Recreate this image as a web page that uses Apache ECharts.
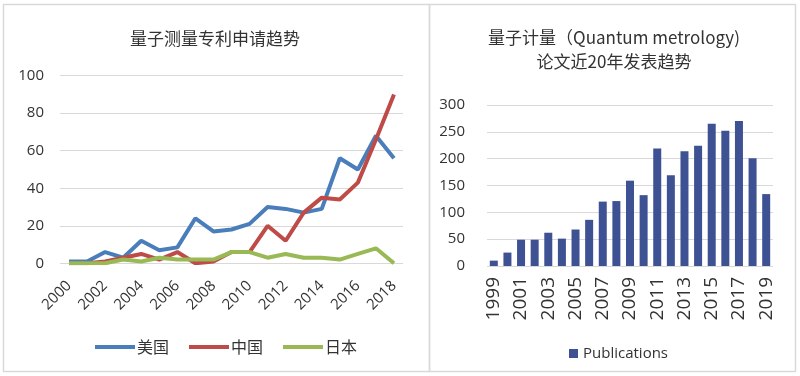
<!DOCTYPE html>
<html><head><meta charset="utf-8">
<script src="https://cdn.jsdelivr.net/npm/echarts@6/dist/echarts.min.js"></script>
<style>html,body{margin:0;padding:0;background:#fff;}#c{width:800px;height:376px;}</style>
</head><body><div id="c"></div>
<script>
var patentYears = ['2000','2001','2002','2003','2004','2005','2006','2007','2008','2009','2010','2011','2012','2013','2014','2015','2016','2017','2018'];
var usa   = [1, 1, 6, 3, 12, 7, 8.5, 24, 17, 18, 21, 30, 29, 27, 29, 56, 50, 68, 56];
var china = [0, 0, 1, 3, 5, 2, 6, 0, 1, 6, 6, 20, 12, 27, 35, 34, 43, 66, 90];
var japan = [0, 0, 0, 2, 1, 3, 2, 2, 2, 6, 6, 3, 5, 3, 3, 2, 5, 8, 0];
var pubYears = ['1999','2000','2001','2002','2003','2004','2005','2006','2007','2008','2009','2010','2011','2012','2013','2014','2015','2016','2017','2018','2019'];
var publications = [10, 25, 49, 49, 62, 51, 68, 86, 120, 121, 159, 132, 219, 169, 214, 224, 265, 252, 270, 201, 134];
var leftTicks = [0, 20, 40, 60, 80, 100];
var rightTicks = [0, 50, 100, 150, 200, 250, 300];

var FONT = "'Open Sans','Noto Sans CJK SC',sans-serif";
var CJK = "'Noto Sans CJK SC',sans-serif";
var TXT = '#333333';
var chart = echarts.init(document.getElementById('c'), null, {renderer: 'canvas'});
chart.setOption({
  animation: false,
  backgroundColor: '#ffffff',
  textStyle: {fontFamily: FONT, color: TXT},
  graphic: [
    {type: 'rect', shape: {x: 3.5, y: 4.5, width: 426, height: 367}, style: {fill: 'none', stroke: '#d9d9d9', lineWidth: 1.5}, silent: true},
    {type: 'rect', shape: {x: 429.5, y: 4.5, width: 366, height: 367}, style: {fill: 'none', stroke: '#d9d9d9', lineWidth: 1.5}, silent: true},
    {type: 'text', x: 215, y: 39, style: {text: '量子测量专利申请趋势', font: '17px ' + CJK, fill: TXT, textAlign: 'center', textVerticalAlign: 'middle'}},
    {type: 'text', x: 614, y: 38, style: {text: '量子计量（Quantum metrology)', font: '17px ' + CJK, fill: TXT, textAlign: 'center', textVerticalAlign: 'middle'}},
    {type: 'text', x: 614, y: 62, style: {text: '论文近20年发表趋势', font: '17px ' + CJK, fill: TXT, textAlign: 'center', textVerticalAlign: 'middle'}}
  ],
  legend: [
    {data: [{name: '美国', icon: 'rect'}, {name: '中国', icon: 'rect'}, {name: '日本', icon: 'rect'}],
     left: 90, top: 334, itemWidth: 40, itemHeight: 4, itemGap: 20,
     textStyle: {fontFamily: CJK, fontSize: 16, color: TXT, padding: [0, 0, 0, -3]}},
    {data: [{name: 'Publications', icon: 'rect'}], left: 564, top: 341, itemWidth: 9, itemHeight: 9, itemGap: 6,
     textStyle: {fontFamily: FONT, fontSize: 15, color: TXT}}
  ],
  grid: [
    {left: 60, right: 397, top: 75.7, bottom: 112.7},
    {left: 487, right: 27, top: 105, bottom: 110}
  ],
  xAxis: [
    {type: 'category', gridIndex: 0, data: patentYears, boundaryGap: true,
     axisLine: {show: false}, axisTick: {show: false},
     axisLabel: {interval: 1, rotate: 45, fontSize: 15, color: TXT, margin: 20, fontFamily: FONT}},
    {type: 'category', gridIndex: 1, data: pubYears,
     axisLine: {show: false}, axisTick: {show: false},
     axisLabel: {interval: 1, rotate: 90, fontSize: 19, color: TXT, margin: 11, fontFamily: FONT}}
  ],
  yAxis: [
    {type: 'value', gridIndex: 0, min: leftTicks[0], max: leftTicks[leftTicks.length - 1], interval: 20,
     axisLine: {show: false}, axisTick: {show: false},
     splitLine: {lineStyle: {color: '#d9d9d9', width: 1}},
     axisLabel: {fontSize: 15, color: TXT, margin: 16, fontFamily: FONT}},
    {type: 'value', gridIndex: 1, min: rightTicks[0], max: rightTicks[rightTicks.length - 1], interval: 50,
     axisLine: {show: false}, axisTick: {show: false},
     splitLine: {lineStyle: {color: '#d9d9d9', width: 1}},
     axisLabel: {fontSize: 15, color: TXT, margin: 22, fontFamily: FONT}}
  ],
  series: [
    {name: '美国', type: 'line', xAxisIndex: 0, yAxisIndex: 0, data: usa, symbol: 'none',
     itemStyle: {color: '#4A7EBB'}, lineStyle: {color: '#4A7EBB', width: 4}, z: 3},
    {name: '中国', type: 'line', xAxisIndex: 0, yAxisIndex: 0, data: china, symbol: 'none',
     itemStyle: {color: '#BE4B48'}, lineStyle: {color: '#BE4B48', width: 4}, z: 4},
    {name: '日本', type: 'line', xAxisIndex: 0, yAxisIndex: 0, data: japan, symbol: 'none',
     itemStyle: {color: '#98B954'}, lineStyle: {color: '#98B954', width: 4}, z: 5},
    {name: 'Publications', type: 'bar', xAxisIndex: 1, yAxisIndex: 1, data: publications,
     barWidth: 8, itemStyle: {color: '#3E5193'}}
  ]
});
</script></body></html>
